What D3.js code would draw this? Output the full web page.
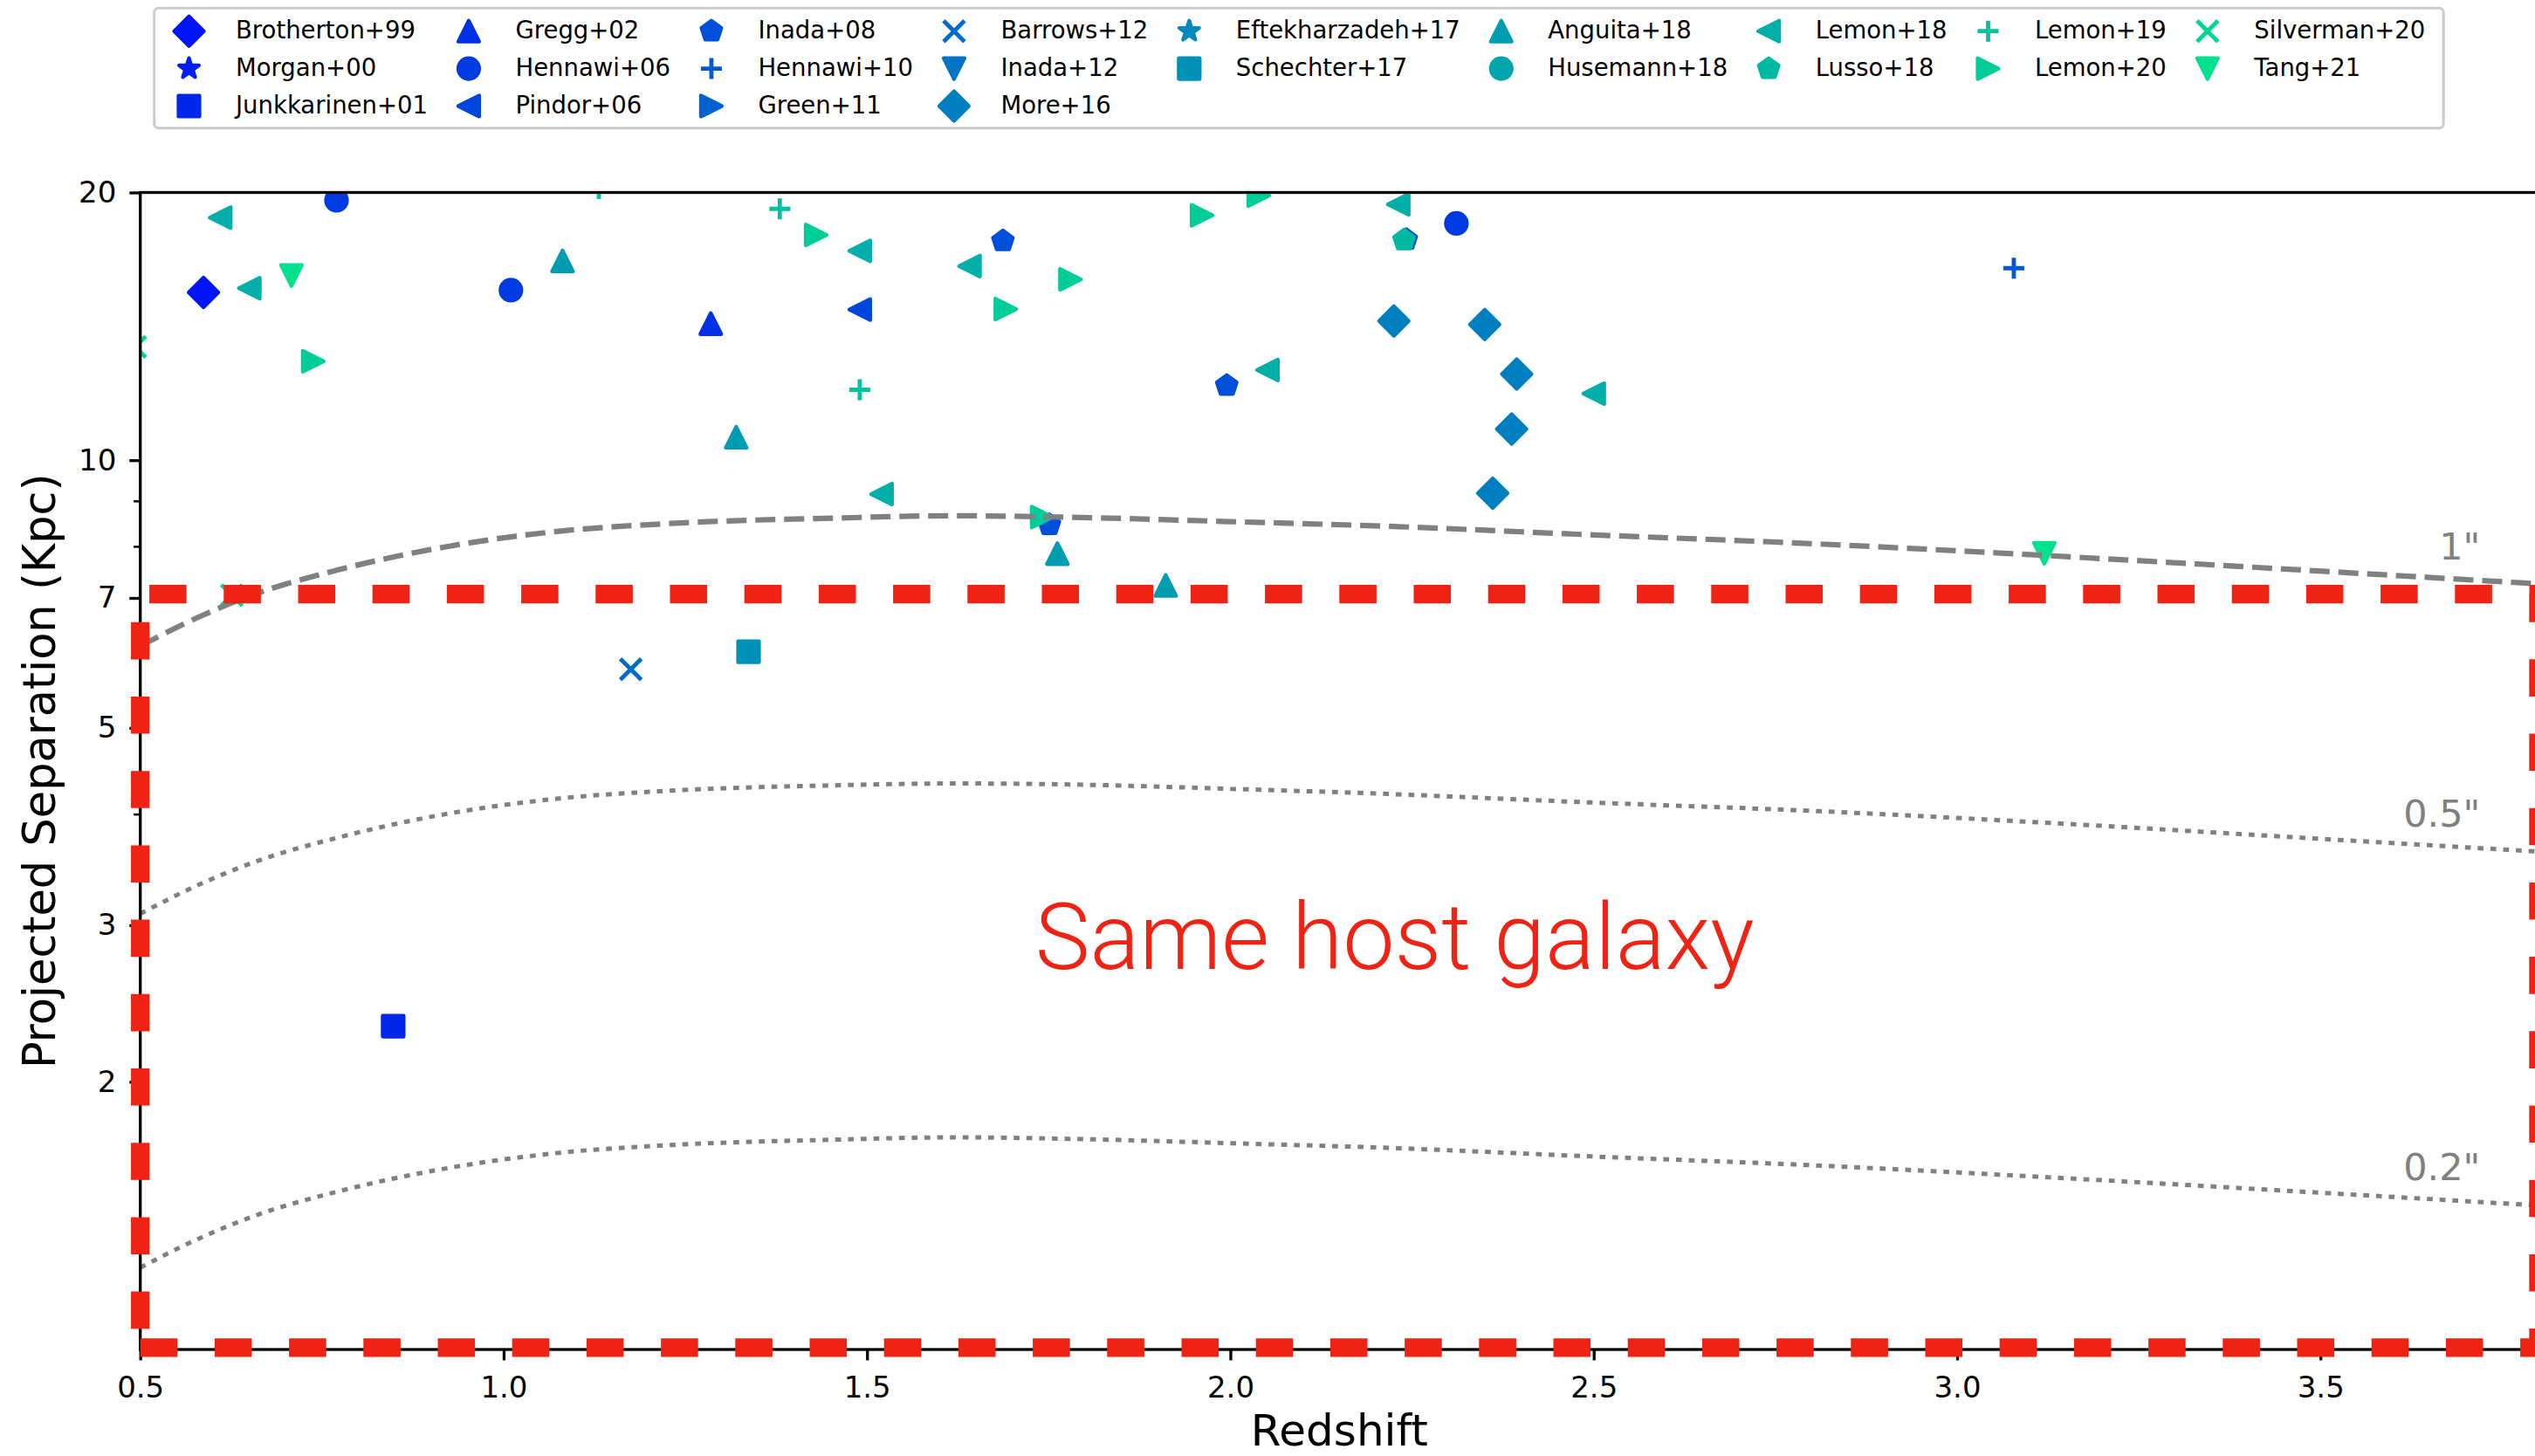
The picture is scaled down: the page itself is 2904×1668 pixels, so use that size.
<!DOCTYPE html>
<html>
<head>
<meta charset="utf-8">
<script src="https://cdn.jsdelivr.net/npm/d3@7"></script>
<style>
  html, body { margin: 0; padding: 0; background: #fff; }
  svg text { font-family: "DejaVu Sans", sans-serif; }
</style>
</head>
<body>
<div id="chart"></div>
<script>
// surveys, in legend order
const surveys = ["Brotherton+99", "Morgan+00", "Junkkarinen+01", "Gregg+02", "Hennawi+06", "Pindor+06",
  "Inada+08", "Hennawi+10", "Green+11", "Barrows+12", "Inada+12", "More+16", "Eftekharzadeh+17",
  "Schechter+17", "Anguita+18", "Husemann+18", "Lemon+18", "Lusso+18", "Lemon+19", "Lemon+20",
  "Silverman+20", "Tang+21"];

// one entry per dual quasar: survey, redshift, projected separation (kpc)
const pointSurvey = [
  "Brotherton+99",
  "Junkkarinen+01",
  "Gregg+02",
  "Hennawi+06", "Hennawi+06", "Hennawi+06",
  "Pindor+06",
  "Inada+08", "Inada+08", "Inada+08", "Inada+08",
  "Hennawi+10",
  "Barrows+12",
  "More+16", "More+16", "More+16", "More+16", "More+16",
  "Schechter+17",
  "Anguita+18", "Anguita+18", "Anguita+18", "Anguita+18",
  "Lemon+18", "Lemon+18", "Lemon+18", "Lemon+18", "Lemon+18", "Lemon+18", "Lemon+18", "Lemon+18",
  "Lusso+18",
  "Lemon+19", "Lemon+19", "Lemon+19",
  "Lemon+20", "Lemon+20", "Lemon+20", "Lemon+20", "Lemon+20", "Lemon+20", "Lemon+20",
  "Silverman+20", "Silverman+20",
  "Tang+21", "Tang+21"
];
const pointZ = [
  0.587,
  0.848,
  1.285,
  0.770, 1.010, 2.311,
  1.490,
  1.687, 1.995, 1.751, 2.242,
  3.078,
  1.175,
  2.225, 2.350, 2.394, 2.387, 2.361,
  1.337,
  1.081, 1.320, 1.762, 1.911,
  0.610, 0.650, 1.490, 1.641, 2.231, 2.051, 2.500, 1.520,
  2.239,
  1.131, 1.380, 1.490,
  0.738, 1.430, 1.780, 1.691, 1.961, 2.039, 1.741,
  0.493, 0.626,
  0.708, 3.120
];
const pointKpc = [
  15.44,
  2.31,
  14.24,
  19.6, 15.53, 18.46,
  14.77,
  17.64, 12.13, 8.46, 17.70,
  16.44,
  5.82,
  14.34, 14.21, 12.50, 10.84, 9.18,
  6.09,
  16.75, 10.61, 7.85, 7.23,
  18.74, 15.61, 17.19, 16.53, 19.39, 12.63, 11.88, 9.16,
  17.68,
  20.2, 19.17, 12.0,
  12.92, 17.92, 15.97, 14.79, 18.85, 19.84, 8.63,
  13.41, 7.05,
  16.13, 7.86
];

// angular-size curves (kpc per 1", 0.5", 0.2")
const curveZ    = [0.50, 0.58, 0.66, 0.77, 0.92, 1.07, 1.23, 1.46, 1.62, 1.77, 2.00, 2.23, 2.47, 2.81, 3.15, 3.48, 3.80];
const curve1    = [6.18, 6.66, 7.08, 7.52, 7.99, 8.31, 8.49, 8.61, 8.66, 8.63, 8.53, 8.42, 8.26, 8.05, 7.79, 7.52, 7.26];
const curve05   = [3.09, 3.33, 3.54, 3.76, 4.00, 4.16, 4.25, 4.31, 4.33, 4.32, 4.27, 4.21, 4.13, 4.03, 3.90, 3.76, 3.63];
const curve02   = [1.236, 1.332, 1.416, 1.504, 1.598, 1.662, 1.698, 1.722, 1.732, 1.726, 1.706, 1.684, 1.652, 1.610, 1.558, 1.504, 1.452];
const curveLabels = ["1\"", "0.5\"", "0.2\""];
const curveLabelZ = 3.72;
const curveLabelKpc = [7.73, 3.87, 1.55];

// "same host galaxy" region
const boxZ = [0.5, 3.8];
const boxKpc = [1.005, 7.07];
const boxLabel = "Same host galaxy";
const boxLabelZ = 2.226;
const boxLabelKpc = 2.68;

// axes
const xDomain = [0.5, 3.8];
const yDomain = [1, 20];
const xTicks = [0.5, 1.0, 1.5, 2.0, 2.5, 3.0, 3.5];
const yTicks = [2, 3, 5, 7, 10, 20];
const yMinorTicks = [4, 6, 8, 9];
const xTitle = "Redshift";
const yTitle = "Projected Separation (Kpc)";

// ---- style ----
const W = 2904, H = 1668;
const pL = 160.7, pR = 2908, pT = 220.5, pB = 1546;
const shapes = ["D", "*", "s", "^", "o", "<", "p", "+", ">", "x", "v",
                "D", "*", "s", "^", "o", "<", "p", "+", ">", "x", "v"];
const winter = d3.interpolateRgb("#0000ff", "#00ff80");
const color = d3.scaleOrdinal().domain(surveys)
  .range(surveys.map((s, i) => winter(0.08 + 0.038 * i)));
const shapeOf = d3.scaleOrdinal().domain(surveys).range(shapes);
const red = "#ef2314";
const ms = 12;   // half marker size

const svg = d3.select("#chart").append("svg")
  .attr("width", W).attr("height", H)
  .style("display", "block");

const x = d3.scaleLinear().domain(xDomain).range([pL, pR]);
const y = d3.scaleLog().domain(yDomain).range([pB, pT]);

function markerPath(shape, r) {
  const p = d3.path();
  if (shape === "o") { p.arc(0, 0, r, 0, 2 * Math.PI); return p.toString(); }
  if (shape === "s") return `M${-r},${-r}H${r}V${r}H${-r}Z`;
  if (shape === "D") { const q = r * Math.SQRT2; return `M0,${-q}L${q},0L0,${q}L${-q},0Z`; }
  if (shape === "^") return `M0,${-r}L${r},${r}L${-r},${r}Z`;
  if (shape === "v") return `M0,${r}L${r},${-r}L${-r},${-r}Z`;
  if (shape === "<") return `M${-r},0L${r},${-r}L${r},${r}Z`;
  if (shape === ">") return `M${r},0L${-r},${-r}L${-r},${r}Z`;
  if (shape === "+") return `M${-r},0H${r}M0,${-r}V${r}`;
  if (shape === "x") return `M${-r},${-r}L${r},${r}M${-r},${r}L${r},${-r}`;
  const n = shape === "p" ? 5 : 10;
  for (let k = 0; k < n; k++) {
    const a = -Math.PI / 2 + k * 2 * Math.PI / n;
    const rr = shape === "*" && k % 2 ? r * 0.381966 : r;
    k ? p.lineTo(rr * Math.cos(a), rr * Math.sin(a)) : p.moveTo(rr * Math.cos(a), rr * Math.sin(a));
  }
  p.closePath();
  return p.toString();
}

function drawMarker(sel, survey) {
  const sh = shapeOf(survey);
  const open = sh === "+" || sh === "x";
  sel.append("path")
    .attr("d", markerPath(sh, ms))
    .attr("fill", open ? "none" : color(survey))
    .attr("stroke", color(survey))
    .attr("stroke-width", open ? 4.8 : 4.2)
    .attr("stroke-linejoin", "round");
}

// clip to the axes box
svg.append("clipPath").attr("id", "plotclip")
  .append("rect").attr("x", pL).attr("y", pT)
  .attr("width", pR - pL).attr("height", pB - pT);

const plot = svg.append("g").attr("clip-path", "url(#plotclip)");

// scatter
pointSurvey.forEach((s, i) => {
  const g = plot.append("g")
    .attr("transform", `translate(${x(pointZ[i])},${y(pointKpc[i])})`);
  drawMarker(g, s);
});

// angular-size curves
const line = d3.line().x((d, i) => x(curveZ[i])).y(d => y(d)).curve(d3.curveMonotoneX);
plot.append("path").attr("d", line(curve1)).attr("fill", "none")
  .attr("stroke", "#808080").attr("stroke-width", 6.2).attr("stroke-dasharray", "23,10");
[curve05, curve02].forEach(c => {
  plot.append("path").attr("d", line(c)).attr("fill", "none")
    .attr("stroke", "#808080").attr("stroke-width", 5).attr("stroke-dasharray", "6.7,7.9");
});

// axes
const xAxis = svg.append("g").attr("transform", `translate(0,${pB})`)
  .call(d3.axisBottom(x).tickValues(xTicks).tickFormat(d3.format(".1f"))
    .tickSizeInner(12.4).tickSizeOuter(0).tickPadding(18.6));
const yAxis = svg.append("g").attr("transform", `translate(${pL},0)`)
  .call(d3.axisLeft(y).tickValues(yTicks).tickFormat(d3.format("d"))
    .tickSizeInner(12.4).tickSizeOuter(0).tickPadding(15));
const yMinor = svg.append("g").attr("transform", `translate(${pL},0)`)
  .call(d3.axisLeft(y).tickValues(yMinorTicks).tickFormat("")
    .tickSizeInner(7.6).tickSizeOuter(0));
[xAxis, yAxis, yMinor].forEach(a => {
  a.select(".domain").remove();
  a.selectAll(".tick line").attr("stroke", "#000").attr("stroke-width", 3.3);
  a.selectAll(".tick text").attr("font-size", 34).attr("fill", "#000")
    .attr("font-family", "DejaVu Sans");
});
yMinor.selectAll(".tick line").attr("stroke-width", 2.5);

// spines
svg.append("rect").attr("x", pL).attr("y", pT)
  .attr("width", pR - pL).attr("height", pB - pT)
  .attr("fill", "none").attr("stroke", "#000").attr("stroke-width", 3.3);

// same-host box: path starts bottom-left, runs counter-clockwise like a matplotlib Rectangle
const bx0 = x(boxZ[0]), bx1 = x(boxZ[1]), by0 = y(boxKpc[0]), by1 = y(boxKpc[1]);
svg.append("path")
  .attr("d", `M${bx0},${by0}L${bx1},${by0}L${bx1},${by1}L${bx0},${by1}Z`)
  .attr("fill", "none").attr("stroke", red).attr("stroke-width", 21.3)
  .attr("stroke-dasharray", "42.6,42.6").attr("stroke-linejoin", "miter");

// curve labels
curveLabels.forEach((t, i) => {
  svg.append("text").attr("x", x(curveLabelZ)).attr("y", y(curveLabelKpc[i]))
    .attr("text-anchor", "end").attr("font-size", 43).attr("fill", "#808080").text(t);
});

svg.append("text").attr("x", x(boxLabelZ)).attr("y", y(boxLabelKpc))
  .attr("text-anchor", "middle").attr("font-size", 106).attr("font-weight", 300)
  .style("font-family", "Roboto, 'Liberation Sans', sans-serif")
  .attr("fill", red).text(boxLabel);

// axis titles
svg.append("text").attr("x", (pL + pR) / 2).attr("y", 1656)
  .attr("text-anchor", "middle").attr("font-size", 50).text(xTitle);
svg.append("text").attr("transform", `translate(63,${(pT + pB) / 2}) rotate(-90)`)
  .attr("text-anchor", "middle").attr("font-size", 51).text(yTitle);

// legend: 9 columns, first 4 hold 3 entries
const legend = svg.append("g");
const frame = legend.append("rect");
const nCol = 9, nBig = surveys.length % nCol, rows0 = Math.floor(surveys.length / nCol);
let textX = 270, idx = 0, lastEnd = 0;
for (let c = 0; c < nCol; c++) {
  const n = c < nBig ? rows0 + 1 : rows0;
  let maxW = 0;
  for (let r = 0; r < n; r++, idx++) {
    const s = surveys[idx];
    const base = 44.3 + r * 42.9;
    const m = legend.append("g").attr("transform", `translate(${textX - 53.5},${base - 8.6})`);
    drawMarker(m, s);
    const t = legend.append("text").attr("x", textX).attr("y", base)
      .attr("font-size", 27.5).attr("fill", "#000").text(s);
    maxW = Math.max(maxW, t.node().getComputedTextLength());
  }
  lastEnd = textX + maxW;
  textX += maxW + 100.5;
}
frame.attr("x", 176.7).attr("y", 9.3).attr("rx", 5)
  .attr("width", lastEnd + 21 - 176.7).attr("height", 137.4)
  .attr("fill", "#fff").attr("stroke", "#cccccc").attr("stroke-width", 3);
</script>
</body>
</html>
